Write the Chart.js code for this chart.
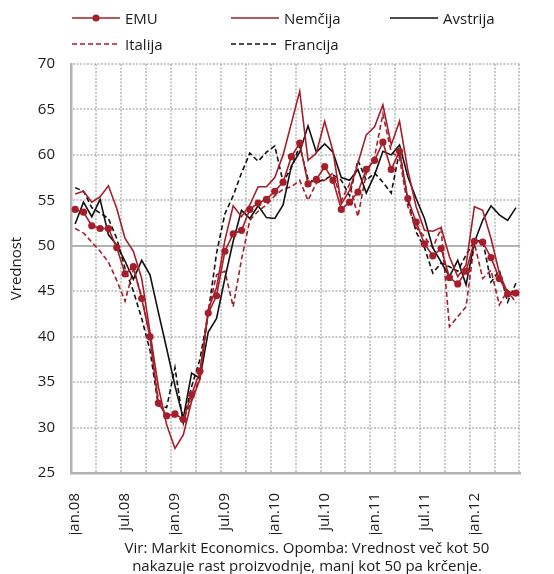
<!DOCTYPE html>
<html>
<head>
<meta charset="utf-8">
<script src="https://cdn.jsdelivr.net/npm/chart.js@4.4.1/dist/chart.umd.min.js"></script>
<style>
  html, body { margin: 0; padding: 0; background: #fff; }
  #wrap { position: relative; width: 554px; height: 574px; overflow: hidden; font-family: 'Open Sans', sans-serif; color: #1a1a1a; }
  #c { position: absolute; left: 0; top: 0; }
  .lg { position: absolute; height: 20px; display: flex; align-items: center; font-size: 15px; white-space: nowrap; }
  .lg svg { margin-right: 5px; }
  .cap { position: absolute; left: 0; width: 614px; text-align: center; font-size: 15px; line-height: 18px; }
</style>
</head>
<body>
<div id="wrap">
  <canvas id="c" width="554" height="574"></canvas>
  <div id="legend"></div>
  <div class="cap" id="cap" style="top:538px;"></div>
</div>
<script>
// ---- categories (monthly, jan.08 - jun.12) ----
const categories = [
  'jan.08','feb.08','mar.08','apr.08','maj.08','jun.08','jul.08','avg.08','sep.08','okt.08','nov.08','dec.08',
  'jan.09','feb.09','mar.09','apr.09','maj.09','jun.09','jul.09','avg.09','sep.09','okt.09','nov.09','dec.09',
  'jan.10','feb.10','mar.10','apr.10','maj.10','jun.10','jul.10','avg.10','sep.10','okt.10','nov.10','dec.10',
  'jan.11','feb.11','mar.11','apr.11','maj.11','jun.11','jul.11','avg.11','sep.11','okt.11','nov.11','dec.11',
  'jan.12','feb.12','mar.12','apr.12','maj.12','jun.12'
];
// ---- tick labels shown on x axis ----
const tickLabels = ['jan.08','jul.08','jan.09','jul.09','jan.10','jul.10','jan.11','jul.11','jan.12'];
const yTicks = [25, 30, 35, 40, 45, 50, 55, 60, 65, 70];
const refLine = 50;
const xGridEvery = 3;

// ---- series ----
const seriesNames = ['EMU', 'Nemčija', 'Avstrija', 'Italija', 'Francija'];
const emu = [54.0,53.7,52.2,51.9,51.9,49.8,46.9,47.7,44.2,40.0,32.7,31.3,
             31.5,30.9,33.6,36.2,42.6,44.5,49.4,51.3,51.7,54.0,54.7,55.1,
             56.0,57.0,59.8,61.3,56.8,57.3,58.7,57.2,54.0,54.8,55.9,58.4,
             59.4,61.4,58.4,60.4,55.2,52.6,50.2,48.9,49.7,46.5,45.8,47.2,
             50.5,50.4,48.7,46.4,44.7,44.8];
const nemcija = [55.7,56.0,54.8,55.4,56.6,54.1,50.8,49.4,46.4,40.5,34.5,30.3,
                 27.7,29.2,32.9,35.3,43.0,45.4,50.6,54.4,53.2,54.5,56.5,56.5,
                 57.5,60.0,63.5,67.0,59.4,60.2,63.7,60.4,54.6,56.1,59.1,62.2,
                 63.1,65.5,61.1,63.7,58.3,54.3,51.7,51.6,52.0,48.8,46.6,47.9,
                 54.3,53.9,50.8,47.0,44.8,44.5];
const avstrija = [52.4,54.8,53.2,55.1,51.2,50.1,48.3,46.3,48.4,46.8,42.7,38.7,
                  34.6,31.0,36.0,35.4,40.5,42.0,46.4,50.5,53.9,53.0,54.4,53.1,
                  53.0,54.5,58.8,60.3,63.2,60.3,61.2,60.3,57.5,57.2,58.4,55.8,
                  57.8,60.4,60.0,61.1,57.6,55.2,53.0,49.8,48.2,46.6,48.4,45.7,
                  50.4,52.8,54.4,53.4,52.8,54.2];
const italija = [51.9,51.4,50.4,49.4,48.2,46.2,43.9,47.4,44.4,40.0,33.0,31.2,
                 31.2,30.8,33.0,35.6,42.8,46.8,47.2,43.3,48.5,52.8,53.8,54.5,
                 55.5,56.2,56.5,57.2,55.0,56.9,57.2,58.0,55.0,56.8,53.2,58.0,
                 59.8,64.5,60.3,59.7,54.3,52.0,51.0,49.8,51.9,41.1,42.2,43.3,
                 50.3,46.4,47.3,43.5,45.1,43.7];
const francija = [56.4,56.0,54.2,53.6,53.0,50.8,47.5,45.0,42.0,38.5,32.4,32.2,
                  36.6,30.5,34.5,37.5,42.6,49.2,53.5,55.5,58.0,60.2,59.3,60.3,
                  61.0,57.0,58.6,61.0,57.3,57.0,57.3,57.8,57.2,55.5,59.4,57.2,
                  58.0,57.0,55.8,60.4,55.0,51.5,49.8,47.0,48.1,47.7,47.2,49.0,
                  50.5,50.6,46.0,47.3,43.8,45.9];

const captionLines = [
  'Vir: Markit Economics. Opomba: Vrednost več kot 50',
  'nakazuje rast proizvodnje, manj kot 50 pa krčenje.'
];

const RED = '#A61E2A';
const BLACK = '#111111';
const GRID = '#b8b8b8';
const AXIS = '#b3b3b3';
const FONT = "'Open Sans', sans-serif";

const styles = [
  { color: RED,   dash: [],     marker: true },
  { color: RED,   dash: [],     marker: false },
  { color: BLACK, dash: [],     marker: false },
  { color: RED,   dash: [5, 3], marker: false },
  { color: BLACK, dash: [5, 3], marker: false }
];
const values = [emu, nemcija, avstrija, italija, francija];

const datasets = seriesNames.map((name, i) => ({
  label: name,
  data: values[i],
  borderColor: styles[i].color,
  backgroundColor: styles[i].color,
  borderWidth: 1.6,
  borderDash: styles[i].dash,
  pointRadius: styles[i].marker ? 3.6 : 0,
  pointHoverRadius: styles[i].marker ? 3.6 : 0,
  pointBorderWidth: 0,
  pointBackgroundColor: styles[i].color,
  tension: 0,
  fill: false
}));

// dotted grid + solid reference line, positioned through the chart's scales
const gridPlugin = {
  id: 'dottedGrid',
  beforeDatasetsDraw(chart) {
    const { ctx, chartArea, scales } = chart;
    const xs = scales.x, ys = scales.y;
    ctx.save();
    ctx.strokeStyle = GRID;
    ctx.lineWidth = 1.5;
    ctx.setLineDash([2, 1.5]);
    // horizontal
    yTicks.forEach(v => {
      if (v === ys.min || v === refLine) return;
      const y = Math.round(ys.getPixelForValue(v));
      ctx.beginPath();
      ctx.moveTo(chartArea.left + 2, y);
      ctx.lineTo(chartArea.right, y);
      ctx.stroke();
    });
    // vertical, at category boundaries
    const n = categories.length;
    for (let i = xGridEvery; i <= n; i += xGridEvery) {
      let x;
      if (i >= n) x = Math.floor(chartArea.right) - 1;
      else x = Math.round((xs.getPixelForValue(i - 1) + xs.getPixelForValue(i)) / 2);
      ctx.beginPath();
      ctx.moveTo(x, chartArea.top);
      ctx.lineTo(x, chartArea.bottom - 1);
      ctx.stroke();
    }
    ctx.restore();
    // reference line at 50
    const y50 = Math.round(ys.getPixelForValue(refLine));
    ctx.save();
    ctx.strokeStyle = AXIS;
    ctx.lineWidth = 2;
    ctx.beginPath();
    ctx.moveTo(chartArea.left, y50);
    ctx.lineTo(chartArea.right, y50);
    ctx.stroke();
    ctx.restore();
  }
};

const chart = new Chart(document.getElementById('c'), {
  type: 'line',
  data: { labels: categories, datasets },
  plugins: [gridPlugin],
  options: {
    responsive: false,
    animation: false,
    devicePixelRatio: 1,
    layout: { padding: { top: 64, right: 0, bottom: 40, left: 0 } },
    plugins: { legend: { display: false }, tooltip: { enabled: false }, title: { display: false } },
    scales: {
      x: {
        type: 'category',
        offset: true,
        grid: { display: false, drawTicks: false },
        border: { display: true, color: AXIS, width: 2.5 },
        ticks: {
          autoSkip: false,
          maxRotation: 90,
          minRotation: 90,
          padding: 20,
          color: '#1a1a1a',
          font: { family: FONT, size: 15 },
          callback: function (value, index) {
            const lab = categories[index];
            return tickLabels.includes(lab) ? lab : '';
          }
        },
        afterFit: (scale) => { scale.height = 61; }
      },
      y: {
        min: 25,
        max: 70,
        afterBuildTicks: (scale) => { scale.ticks = yTicks.map(v => ({ value: v })); },
        grid: { display: false, drawTicks: false },
        border: { display: true, color: AXIS, width: 2.5 },
        ticks: {
          padding: 16,
          color: '#1a1a1a',
          font: { family: FONT, size: 15 }
        },
        title: {
          display: true,
          text: 'Vrednost',
          color: '#1a1a1a',
          font: { family: FONT, size: 15 },
          padding: { top: 8, bottom: 0 }
        },
        afterFit: (scale) => { scale.width = 71; }
      }
    }
  }
});

// ---- HTML legend built from the chart's datasets ----
const legendCols = [72, 231, 390];
const legendRows = [18, 44];
const legendEl = document.getElementById('legend');
chart.data.datasets.forEach((ds, i) => {
  const col = i % 3, row = Math.floor(i / 3);
  const div = document.createElement('div');
  div.className = 'lg';
  div.style.left = legendCols[col] + 'px';
  div.style.top = (legendRows[row] - 10) + 'px';
  const dash = ds.borderDash && ds.borderDash.length ? ` stroke-dasharray="${ds.borderDash.join(',')}"` : '';
  const dot = ds.pointRadius > 0 ? `<circle cx="24" cy="5" r="3.6" fill="${ds.borderColor}"/>` : '';
  div.innerHTML = `<svg width="48" height="10"><line x1="0" y1="5" x2="48" y2="5" stroke="${ds.borderColor}" stroke-width="1.6"${dash}/>${dot}</svg><span>${ds.label}</span>`;
  legendEl.appendChild(div);
});

document.getElementById('cap').innerHTML = captionLines.map(t => `<div>${t}</div>`).join('');
</script>
</body>
</html>
